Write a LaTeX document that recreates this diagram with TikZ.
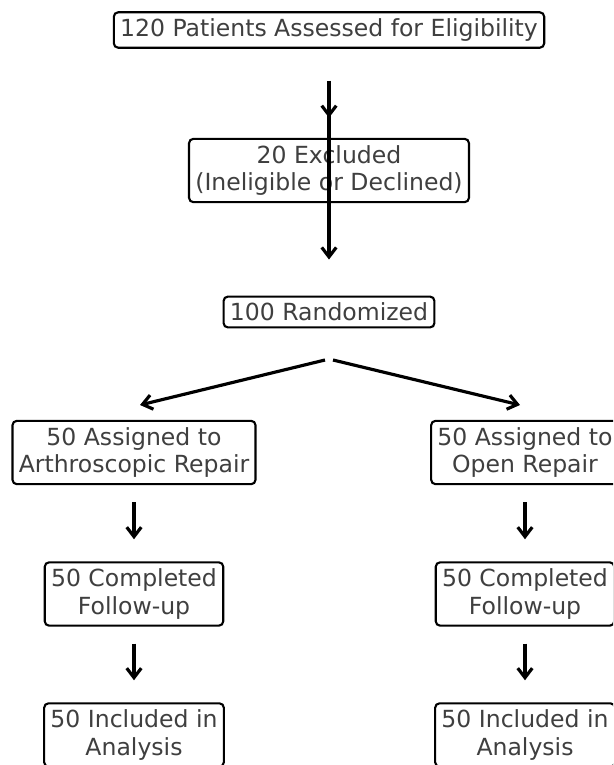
\documentclass[tikz,border=0pt]{standalone}
\usepackage{fontspec}
\setmainfont{DejaVu Sans}
\usetikzlibrary{positioning, arrows.meta, calc}
\usepackage{xcolor}
\definecolor{txtgray}{HTML}{3F3F3F}

\tikzset{stepbox/.style={draw=black, line width=1.2pt, rounded corners=2.5pt,
           fill=white, align=center, text=txtgray, inner xsep=3.6pt, inner ysep=3.6pt,
           font=\fontsize{13.4}{15.9}\selectfont},
         flow/.style={-{Straight Barb[length=1.9mm,width=2.9mm,line width=1.8pt]},
           line width=1.8pt, black}}

\begin{document}
\begin{tikzpicture}[x=0.02cm, y=-0.02cm]
        \useasboundingbox (0,0) rectangle (613,765);
        \clip (0,0) rectangle (613,765);

        % Nodes
        \node[stepbox] (elig) at (329,30) {120 Patients Assessed for Eligibility};
        \node[stepbox] (excl) at (329,170.5) {20 Excluded\\(Ineligible or Declined)};
        \node[stepbox] (rand) at (329,312) {100 Randomized};

        \node[stepbox] (armA) at (134,452.5) {50 Assigned to\\Arthroscopic Repair};
        \node[stepbox] (armB) at (525,452.5) {50 Assigned to\\Open Repair};
        \node[stepbox] (fupA) at (134,594) {50 Completed\\Follow-up};
        \node[stepbox] (fupB) at (525,594) {50 Completed\\Follow-up};
        \node[stepbox] (anaA) at (134,735) {50 Included in\\Analysis};
        \node[stepbox] (anaB) at (525,735) {50 Included in\\Analysis};

        % split points under the randomisation box
        \coordinate (splitL) at (325,360);
        \coordinate (splitR) at (333,360);
        \coordinate (tipL) at (140,405);
        \coordinate (tipR) at (520,405);

        % Edges
        \draw[flow] ($(elig.south)+(0,32)$) -- ($(excl.north)+(0,-20)$);
        \draw[flow] ($(elig.south)+(0,32)$) -- ($(rand.north)+(0,-36)$);
        \draw[flow] (splitL) -- (tipL);
        \draw[flow] (splitR) -- (tipR);
        \draw[flow] ($(armA.south)+(0,17)$) -- ($(fupA.north)+(0,-22)$);
        \draw[flow] ($(armB.south)+(0,17)$) -- ($(fupB.north)+(0,-22)$);
        \draw[flow] ($(fupA.south)+(0,17)$) -- ($(anaA.north)+(0,-22)$);
        \draw[flow] ($(fupB.south)+(0,17)$) -- ($(anaB.north)+(0,-22)$);
\end{tikzpicture}
\end{document}
